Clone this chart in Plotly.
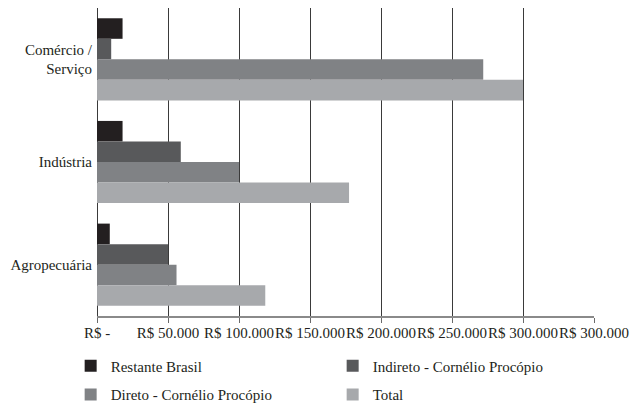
import plotly.graph_objects as go

# Sectors (top to bottom) and values in R$
categories = ["Comércio /<br>Serviço", "Indústria", "Agropecuária"]
restante_brasil = [18000, 18000, 9000]
indireto_cp = [10000, 59000, 50000]
direto_cp = [272000, 100000, 56000]
total = [300000, 177500, 118500]

tick_vals = [0, 50000, 100000, 150000, 200000, 250000, 300000, 350000]
tick_text = ["R$ -", "R$ 50.000", "R$ 100.000", "R$ 150.000", "R$ 200.000",
             "R$ 250.000", "R$ 300.000", "R$ 300.000"]

series = [
    ("Restante Brasil", restante_brasil, "#231f20", "legend"),
    ("Indireto - Cornélio Procópio", indireto_cp, "#58595b", "legend"),
    ("Direto - Cornélio Procópio", direto_cp, "#808285", "legend2"),
    ("Total", total, "#a7a9ac", "legend2"),
]

FONT = "Liberation Serif"
TEXT = "#231f20"

fig = go.Figure()
for name, vals, color, leg in series:
    fig.add_trace(go.Bar(
        y=categories, x=vals, name=name, orientation="h",
        marker=dict(color=color, line=dict(width=0)),
        legend=leg,
    ))

legend_common = dict(
    orientation="h", xanchor="left", yanchor="middle",
    font=dict(family=FONT, size=15, color=TEXT),
    entrywidth=217, entrywidthmode="pixels",
    bgcolor="rgba(0,0,0,0)", borderwidth=0,
)

fig.update_layout(
    width=632, height=404,
    margin=dict(l=97, r=38, t=8, b=88, autoexpand=False),
    paper_bgcolor="white", plot_bgcolor="white",
    font=dict(family=FONT, size=15, color=TEXT),
    barmode="group", bargap=0.2, bargroupgap=0,
    xaxis=dict(
        range=[0, 350000], tickvals=tick_vals, ticktext=tick_text,
        tickangle=0, automargin=False,
        showgrid=True, gridcolor="#3a3a3a", gridwidth=1,
        zeroline=True, zerolinecolor="#3a3a3a", zerolinewidth=1,
        showline=True, linecolor="#8a8a8a", linewidth=2,
        ticks="outside", ticklen=5, tickcolor="#6a6a6a", tickwidth=1,
        ticklabelstandoff=-3,
        tickfont=dict(family=FONT, size=15, color=TEXT),
    ),
    yaxis=dict(
        autorange="reversed", showgrid=False, zeroline=False,
        showline=False, ticks="", ticklabelstandoff=4, automargin=False,
        tickfont=dict(family=FONT, size=15, color=TEXT),
    ),
    legend=dict(x=-0.053, y=-0.162, **legend_common),
    legend2=dict(x=-0.053, y=-0.256, **legend_common),
)

fig.write_html("out.html")
